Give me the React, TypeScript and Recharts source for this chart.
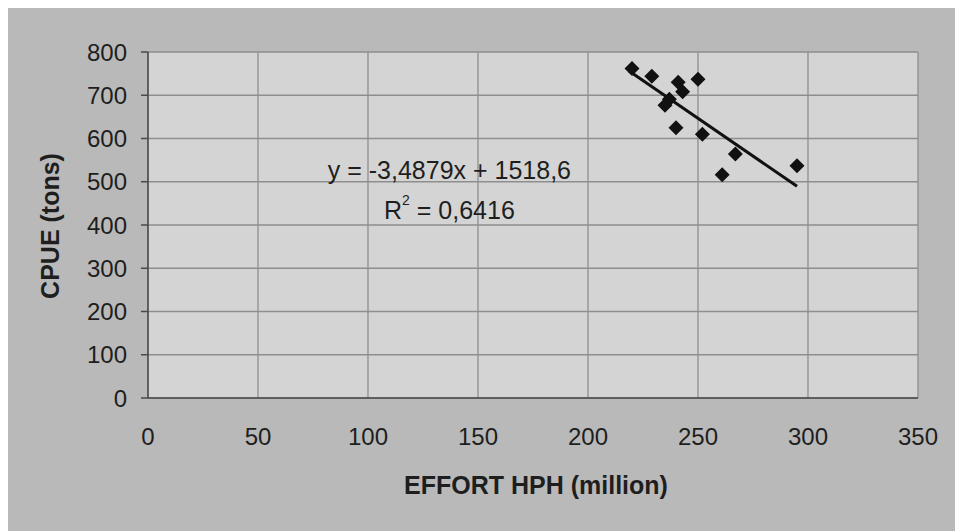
import {
  ScatterChart,
  Scatter,
  XAxis,
  YAxis,
  CartesianGrid,
  ReferenceLine,
  ReferenceDot,
} from 'recharts';

// Effort (million HPH) vs CPUE (tons)
const effort = [220, 229, 241, 243, 250, 237, 235, 240, 252, 267, 261, 295];
const cpue = [762, 744, 730, 708, 737, 691, 677, 625, 610, 564, 516, 537];

const xTicks = [0, 50, 100, 150, 200, 250, 300, 350];
const yTicks = [0, 100, 200, 300, 400, 500, 600, 700, 800];

// trend line as printed on the chart
const slope = -3.4879;
const intercept = 1518.6;
const eqLine = 'y = -3,4879x + 1518,6';
const r2Value = '0,6416';

const FONT = '"Liberation Sans", Arial, sans-serif';
const outerBg = '#b9b9b9';
const plotBg = '#d4d4d4';
const gridColor = '#8e8e8e';
const axisColor = '#4a4a4a';
const textColor = '#1e1e1e';

const points = effort.map((x, i) => ({ x, y: cpue[i] }));
const xMin = Math.min(...effort) - 1.5;
const xMax = Math.max(...effort);
const trend = [
  { x: xMin, y: slope * xMin + intercept },
  { x: xMax, y: slope * xMax + intercept },
];

function DiamondShape(props: any) {
  const { cx, cy } = props;
  const r = 7.5;
  return (
    <polygon
      points={`${cx},${cy - r} ${cx + r},${cy} ${cx},${cy + r} ${cx - r},${cy}`}
      fill="#111"
    />
  );
}

function EquationLabel(props: any) {
  const { viewBox } = props;
  const cx = viewBox.x + (viewBox.width || 0) / 2;
  const cy = viewBox.y + (viewBox.height || 0) / 2;
  return (
    <g fontFamily={FONT} fill={textColor} fontSize={25}>
      <text x={cx} y={cy - 20} textAnchor="middle" dominantBaseline="central">
        {eqLine}
      </text>
      <text x={cx} y={cy + 20} textAnchor="middle" dominantBaseline="central">
        R
        <tspan fontSize={14} dy={-10}>2</tspan>
        <tspan dy={10}> = {r2Value}</tspan>
      </text>
    </g>
  );
}

export default function App() {
  return (
    <div style={{ position: 'relative', width: 955, height: 531 }}>
      <style>{`html, body { margin: 0; overflow: hidden; background: ${outerBg}; }`}</style>
      <div style={{ position: 'absolute', left: 0, top: 0, width: 8, height: 531, background: '#fff' }} />
      <div style={{ position: 'absolute', left: 0, top: 0, width: 955, height: 8, background: '#fff' }} />
      <div style={{ position: 'absolute', left: 8, top: 8, width: 947, height: 523, background: outerBg }}>
        <ScatterChart
          width={947}
          height={523}
          margin={{ top: 44, right: 37, left: 0, bottom: 0 }}
          style={{ fontFamily: FONT }}
        >
          <CartesianGrid stroke={gridColor} strokeWidth={1.3} fill={plotBg} fillOpacity={1} />
          <XAxis
            type="number"
            dataKey="x"
            domain={[0, 350]}
            ticks={xTicks}
            height={133}
            tickLine={false}
            tickSize={6}
            tickMargin={24}
            axisLine={{ stroke: axisColor, strokeWidth: 1.5 }}
            tick={{ fontSize: 24, fill: textColor, fontFamily: FONT }}
            label={{
              value: 'EFFORT HPH (million)',
              position: 'center',
              dx: 3,
              dy: 21,
              style: { fontSize: 25, fontWeight: 700, fill: textColor, fontFamily: FONT },
            }}
          />
          <YAxis
            type="number"
            dataKey="y"
            domain={[0, 800]}
            ticks={yTicks}
            width={140}
            tickSize={7}
            tickMargin={14}
            tickLine={{ stroke: axisColor, strokeWidth: 1.5 }}
            axisLine={{ stroke: axisColor, strokeWidth: 1.5 }}
            tick={{ fontSize: 24, fill: textColor, fontFamily: FONT }}
            label={{
              value: 'CPUE (tons)',
              angle: -90,
              position: 'center',
              dx: -28,
              dy: 1,
              style: { fontSize: 25, fontWeight: 700, fill: textColor, fontFamily: FONT, textAnchor: 'middle' },
            }}
          />
          <ReferenceDot x={137} y={480} r={0} fill="none" stroke="none" label={<EquationLabel />} />
          <ReferenceLine segment={trend} stroke="#111" strokeWidth={3} ifOverflow="visible" />
          <Scatter data={points} shape={<DiamondShape />} isAnimationActive={false} />
        </ScatterChart>
      </div>
    </div>
  );
}
